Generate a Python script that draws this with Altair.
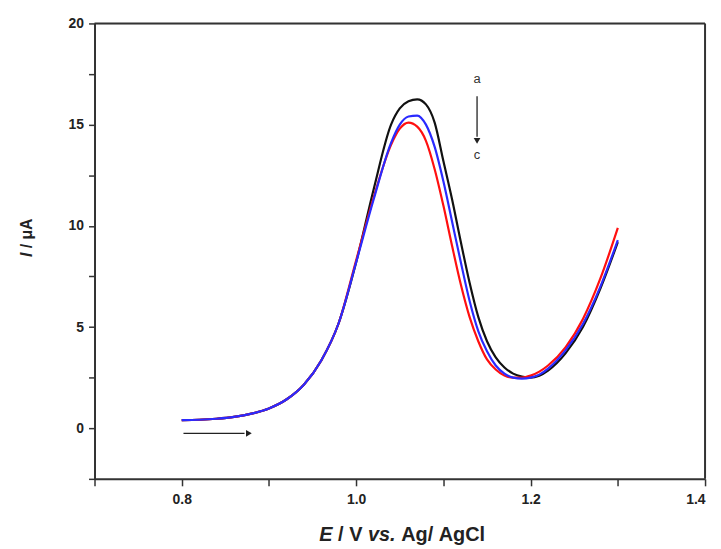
import altair as alt
import pandas as pd

E = [0.80, 0.82, 0.84, 0.86, 0.88, 0.90, 0.92, 0.94, 0.96, 0.98, 1.00, 1.02, 1.04,
     1.05, 1.06, 1.07, 1.08, 1.09, 1.10, 1.11, 1.12, 1.13, 1.14, 1.15, 1.16, 1.17,
     1.18, 1.19, 1.20, 1.21, 1.22, 1.24, 1.26, 1.28, 1.30]
I_a = [0.40, 0.42, 0.47, 0.56, 0.72, 0.98, 1.42, 2.15, 3.35, 5.2, 8.2, 11.8, 15.0,
       15.8, 16.15, 16.25, 16.0, 15.1, 13.2, 11.3, 9.2, 7.2, 5.5, 4.3, 3.5, 3.0,
       2.7, 2.55, 2.5, 2.6, 2.85, 3.7, 5.0, 6.9, 9.2]
I_b = [0.40, 0.42, 0.47, 0.56, 0.72, 0.98, 1.42, 2.15, 3.35, 5.2, 8.2, 11.3, 14.1,
       15.0, 15.4, 15.45, 15.0, 13.9, 12.2, 10.2, 8.2, 6.3, 4.8, 3.8, 3.1, 2.7,
       2.5, 2.45, 2.5, 2.65, 2.95, 3.85, 5.15, 7.0, 9.3]
I_c = [0.40, 0.42, 0.47, 0.56, 0.72, 0.98, 1.42, 2.15, 3.35, 5.2, 8.3, 11.4, 14.0,
       14.8, 15.1, 14.9, 14.2, 12.8, 11.0, 9.0, 7.1, 5.5, 4.3, 3.4, 2.9, 2.6,
       2.5, 2.5, 2.6, 2.8, 3.1, 4.0, 5.4, 7.4, 9.9]

series = ["a", "c", "b"]
series_values = {"a": I_a, "b": I_b, "c": I_c}
series_colors = {"a": "#111111", "b": "#2a2aff", "c": "#ff1010"}

x_ticks = [0.7, 0.8, 0.9, 1.0, 1.1, 1.2, 1.3, 1.4]
y_ticks = [-2.5, 0, 2.5, 5, 7.5, 10, 12.5, 15, 17.5, 20]

# annotation data
arrow_v_E = [1.1386]
arrow_v_I = [16.4]
arrow_v_I2 = [14.4]
arrow_v_head = [14.2]
label_E = [1.1386, 1.1386]
label_I = [17.25, 13.5]
label_txt = ["a", "c"]
arrow_h_E = [0.802]
arrow_h_E2 = [0.872]
arrow_h_head = [0.877]
arrow_h_I = [-0.25]

font = "Liberation Sans"
W, H = 614, 458

xscale = alt.Scale(domain=[0.7, 1.4], nice=False, zero=False)
yscale = alt.Scale(domain=[-2.5, 20], nice=False, zero=False)

xaxis = alt.Axis(values=x_ticks, title=None, grid=False,
                 labelExpr="indexof(['0.8','1.0','1.2','1.4'], format(datum.value,'.1f')) >= 0 ? format(datum.value,'.1f') : ''",
                 tickSize=7, labelPadding=7, labelFontSize=14, labelFontWeight="bold",
                 labelColor="#222222", labelFont=font, domainColor="#333333",
                 domainWidth=2, tickColor="#333333", tickWidth=1.5)
yaxis = alt.Axis(values=y_ticks, title=None, grid=False,
                 labelExpr="datum.value % 5 == 0 ? format(datum.value, 'd') : ''",
                 tickSize=6, labelPadding=5, labelFontSize=14, labelFontWeight="bold",
                 labelColor="#222222", labelFont=font, domainColor="#333333",
                 domainWidth=2, tickColor="#333333", tickWidth=1.5)

layers = []
for s in series:
    df = pd.DataFrame({"E": E, "I": series_values[s]})
    layers.append(
        alt.Chart(df).mark_line(color=series_colors[s], strokeWidth=2.2,
                                interpolate="monotone", clip=True)
        .encode(x=alt.X("E:Q", scale=xscale, axis=xaxis),
                y=alt.Y("I:Q", scale=yscale, axis=yaxis))
    )

# frame top and right
frame = pd.DataFrame({"k": [0]})
layers.append(alt.Chart(frame).mark_rule(color="#333333", strokeWidth=2)
              .encode(x=alt.value(0), x2=alt.value(W), y=alt.value(0)))
layers.append(alt.Chart(frame).mark_rule(color="#333333", strokeWidth=2)
              .encode(x=alt.value(W), y=alt.value(0), y2=alt.value(H)))

vdf = pd.DataFrame({"E": arrow_v_E, "I": arrow_v_I, "I2": arrow_v_I2, "H": arrow_v_head})
layers.append(alt.Chart(vdf).mark_rule(color="#222222", strokeWidth=1.3)
              .encode(x="E:Q", y="I:Q", y2="I2:Q"))
layers.append(alt.Chart(vdf).mark_point(shape="triangle-down", filled=True, opacity=1,
                                        color="#222222", size=45)
              .encode(x="E:Q", y="H:Q"))

ldf = pd.DataFrame({"E": label_E, "I": label_I, "t": label_txt})
layers.append(alt.Chart(ldf).mark_text(font=font, fontSize=13, color="#333333",
                                       baseline="middle", align="center")
              .encode(x="E:Q", y="I:Q", text="t:N"))

hdf = pd.DataFrame({"E": arrow_h_E, "E2": arrow_h_E2, "H": arrow_h_head, "I": arrow_h_I})
layers.append(alt.Chart(hdf).mark_rule(color="#222222", strokeWidth=1.3)
              .encode(x="E:Q", x2="E2:Q", y="I:Q"))
layers.append(alt.Chart(hdf).mark_point(shape="triangle-right", filled=True, opacity=1,
                                        color="#222222", size=45)
              .encode(x="H:Q", y="I:Q"))

# axis titles with mixed italics (each word placed separately)
xt_parts = ["E", "/", "V", "vs.", "Ag/", "AgCl"]
xt_x = [226, 244.9, 256.1, 275, 308.4, 346.2]
xt_style = ["italic", "normal", "normal", "italic", "normal", "normal"]
for txt, px, st in zip(xt_parts, xt_x, xt_style):
    layers.append(alt.Chart(pd.DataFrame({"t": [txt]})).mark_text(
        font=font, fontSize=20, fontWeight="bold", fontStyle=st, color="#222222",
        align="left", baseline="middle")
        .encode(x=alt.value(px), y=alt.value(514), text="t:N"))

yt_parts = ["I", "/", "μA"]
yt_y = [235, 226.2, 217.4]
yt_style = ["italic", "normal", "normal"]
for txt, py, st in zip(yt_parts, yt_y, yt_style):
    layers.append(alt.Chart(pd.DataFrame({"t": [txt]})).mark_text(
        font=font, fontSize=16, fontWeight="bold", fontStyle=st, color="#222222",
        align="left", baseline="middle", angle=270)
        .encode(x=alt.value(-68), y=alt.value(py), text="t:N"))

chart = alt.layer(*layers).properties(
    width=W, height=H,
    autosize=alt.AutoSizeParams(type="none"),
    padding={"left": 87, "top": 14, "right": 8, "bottom": 65},
).configure_view(stroke="#333333", strokeWidth=2).configure(background="white")

chart.save("out.html", embed_options={"renderer": "svg", "actions": False})
